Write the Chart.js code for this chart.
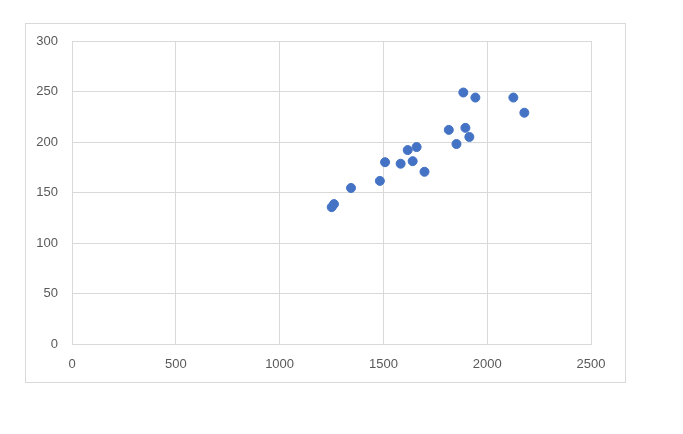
<!DOCTYPE html>
<html>
<head>
<meta charset="utf-8">
<script src="https://cdn.jsdelivr.net/npm/chart.js@4"></script>
<style>
  html, body { margin: 0; padding: 0; background: #fff; }
  #wrap { position: relative; width: 683px; height: 434px; }
  #frame {
    position: absolute; left: 25px; top: 23px; width: 599px; height: 358px;
    border: 1px solid #d9d9d9; box-sizing: content-box;
  }
  canvas { position: absolute; left: 0; top: 0; }
</style>
</head>
<body>
<div id="wrap">
  <div id="frame"></div>
  <canvas id="scatter" width="683" height="434"></canvas>
</div>
<script>
// values
const xValues = [1885, 1943, 2126, 2179, 1815, 1895, 1914, 1852, 1617, 1660,
                 1508, 1583, 1641, 1698, 1483, 1344, 1262, 1251];
const yValues = [249, 244, 244, 229, 212, 214, 205, 198, 192, 195,
                 180, 178.5, 181, 170.5, 161.5, 154.5, 138.5, 135.5];

const xTicks = [0, 500, 1000, 1500, 2000, 2500];
const yTicks = [0, 50, 100, 150, 200, 250, 300];

const points = xValues.map((x, i) => ({ x: x, y: yValues[i] }));

const gridColor = '#d9d9d9';
const labelColor = '#595959';
const labelFont = { family: 'Liberation Sans', size: 13 };

new Chart(document.getElementById('scatter'), {
    type: 'scatter',
    data: {
        datasets: [{
            data: points,
            backgroundColor: '#4472c4',
            borderColor: '#4472c4',
            pointRadius: 4.5,
            pointHoverRadius: 4.5
        }]
    },
    options: {
        responsive: false,
        animation: false,
        layout: { padding: { left: 0, top: 41, right: 92, bottom: 60 } },
        plugins: { legend: { display: false }, tooltip: { enabled: false } },
        scales: {
            x: {
                type: 'linear',
                min: xTicks[0],
                max: xTicks[xTicks.length - 1],
                afterBuildTicks: s => { s.ticks = xTicks.map(v => ({ value: v })); },
                afterFit: s => { s.height = 30; },
                grid: { color: gridColor, drawTicks: false },
                border: { color: gridColor },
                ticks: {
                    color: labelColor, font: labelFont, padding: 13, maxRotation: 0,
                    callback: v => String(v)
                }
            },
            y: {
                type: 'linear',
                min: yTicks[0],
                max: yTicks[yTicks.length - 1],
                afterBuildTicks: s => { s.ticks = yTicks.map(v => ({ value: v })); },
                afterFit: s => { s.width = 72; },
                grid: { color: gridColor, drawTicks: false },
                border: { color: gridColor },
                ticks: {
                    color: labelColor, font: labelFont, padding: 14,
                    callback: v => String(v)
                }
            }
        }
    }
});
</script>
</body>
</html>
